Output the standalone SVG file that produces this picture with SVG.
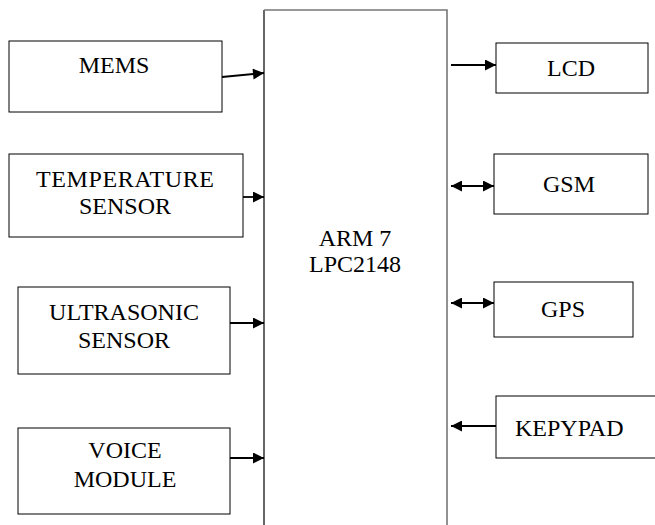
<svg xmlns="http://www.w3.org/2000/svg" width="655" height="525" viewBox="0 0 655 525">
<defs>
<style>
.box{fill:#fff;stroke:#000;stroke-width:1}
.t{font-family:"Liberation Serif","Times New Roman",serif;font-size:24px;fill:#000;text-anchor:middle}
.c{stroke:#000;stroke-width:1.8;fill:none}
</style>
<marker id="ah" viewBox="0 0 10 10" refX="10" refY="5" markerWidth="14" markerHeight="11" markerUnits="userSpaceOnUse" orient="auto-start-reverse">
<path d="M0,0 L10,5 L0,10 Z" fill="#000"/>
</marker>
</defs>
<rect width="655" height="525" fill="#fff"/>
<g id="arm7">
<path d="M264,525 V10" stroke="#000" stroke-width="1.2" fill="none"/>
<path d="M264,10 H447 V525" stroke="#777" stroke-width="1.6" fill="none"/>
<text class="t" x="355" y="246">ARM 7</text>
<text class="t" x="355" y="272">LPC2148</text>
</g>
<g id="mems">
<rect class="box" x="9" y="41" width="213" height="71"/>
<text class="t" x="114" y="73">MEMS</text>
</g>
<g id="temp">
<rect class="box" x="9" y="154" width="234" height="83"/>
<text class="t" x="125" y="187" textLength="178" lengthAdjust="spacing">TEMPERATURE</text>
<text class="t" x="125" y="214">SENSOR</text>
</g>
<g id="ultra">
<rect class="box" x="18" y="287" width="212" height="87"/>
<text class="t" x="124" y="320">ULTRASONIC</text>
<text class="t" x="124" y="348">SENSOR</text>
</g>
<g id="voice">
<rect class="box" x="18" y="428" width="212" height="86"/>
<text class="t" x="125" y="458">VOICE</text>
<text class="t" x="125" y="487">MODULE</text>
</g>
<g id="lcd">
<rect class="box" x="496" y="43" width="152" height="50"/>
<text class="t" x="571" y="76">LCD</text>
</g>
<g id="gsm">
<rect class="box" x="494" y="154" width="154" height="60"/>
<text class="t" x="569" y="192">GSM</text>
</g>
<g id="gps">
<rect class="box" x="494" y="282" width="139" height="55"/>
<text class="t" x="563" y="317">GPS</text>
</g>
<g id="keypad">
<rect class="box" x="496" y="396" width="165" height="62"/>
<text class="t" x="515" y="436" style="text-anchor:start">KEPYPAD</text>
</g>
<g id="connectors">
<line class="c" x1="222" y1="77" x2="264" y2="73" marker-end="url(#ah)"/>
<line class="c" x1="243" y1="197" x2="264" y2="197" marker-end="url(#ah)"/>
<line class="c" x1="230" y1="323" x2="264" y2="323" marker-end="url(#ah)"/>
<line class="c" x1="230" y1="458" x2="264" y2="458" marker-end="url(#ah)"/>
<line class="c" x1="451" y1="65" x2="496" y2="65" marker-end="url(#ah)"/>
<line class="c" x1="451" y1="186" x2="494" y2="186" marker-start="url(#ah)" marker-end="url(#ah)"/>
<line class="c" x1="451" y1="303" x2="494" y2="303" marker-start="url(#ah)" marker-end="url(#ah)"/>
<line class="c" x1="496" y1="426" x2="451" y2="426" marker-end="url(#ah)"/>
</g>
</svg>
